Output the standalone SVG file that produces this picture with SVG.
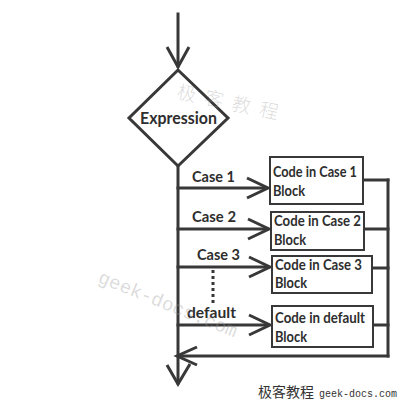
<svg xmlns="http://www.w3.org/2000/svg" width="400" height="400" viewBox="0 0 400 400">
<style>
.ln{stroke:#383838;stroke-width:3;fill:none;stroke-linecap:square}
.ah{stroke:#383838;stroke-width:3;fill:none;stroke-linejoin:miter}
.box{fill:#fff;stroke:#383838;stroke-width:2}
.t{font-family:Lato,"Open Sans","DejaVu Sans",sans-serif;font-weight:bold;fill:#2e2e2e}
.lab{font-size:15.5px}
.code{font-size:15px}
.wm{fill:#999;fill-opacity:0.35}
</style>
<rect width="400" height="400" fill="#fff"/>
<g id="connectors">
<line class="ln" x1="178" y1="14" x2="178" y2="66"/>
<polyline class="ah" points="167,47 178,67 189,47"/>
<line class="ln" x1="178" y1="166" x2="178" y2="383"/>
<polyline class="ah" points="167,365 178,384 190,364"/>
<line class="ln" x1="178" y1="188" x2="266" y2="188"/>
<polyline class="ah" points="247,178 268,188 247,198"/>
<line class="ln" x1="178" y1="229" x2="267" y2="229"/>
<polyline class="ah" points="248,219 269,229 248,239"/>
<line class="ln" x1="178" y1="267" x2="268" y2="267"/>
<polyline class="ah" points="249,257 270,267 249,277"/>
<line class="ln" x1="178" y1="325" x2="268" y2="325"/>
<polyline class="ah" points="249,315 270,325 249,335"/>
<line x1="213" y1="270" x2="213" y2="304" stroke="#383838" stroke-width="3" stroke-dasharray="3 3"/>
<line class="ln" x1="363" y1="180" x2="388" y2="180"/>
<line class="ln" x1="364" y1="229" x2="388" y2="229"/>
<line class="ln" x1="372" y1="268" x2="388" y2="268"/>
<line class="ln" x1="373" y1="325" x2="388" y2="325"/>
<line class="ln" x1="388" y1="180" x2="388" y2="356"/>
<line class="ln" x1="388" y1="356" x2="179" y2="356"/>
<polyline class="ah" points="197,347 177,356 197,365"/>
<text class="t lab" x="192" y="182" textLength="43" lengthAdjust="spacingAndGlyphs">Case 1</text>
<text class="t lab" x="192" y="222" textLength="44" lengthAdjust="spacingAndGlyphs">Case 2</text>
<text class="t lab" x="197" y="260" textLength="43" lengthAdjust="spacingAndGlyphs">Case 3</text>
<text class="t lab" x="187" y="318" textLength="49" lengthAdjust="spacingAndGlyphs">default</text>
</g>
<g id="expression">
<polygon points="178,70 228,118 178,166 129,118" fill="#fff" stroke="#383838" stroke-width="3"/>
<text class="t" x="140" y="124" font-size="17" textLength="77" lengthAdjust="spacingAndGlyphs">Expression</text>
</g>
<g id="case1">
<rect class="box" x="270" y="157" width="93" height="47"/>
<text class="t code" x="273" y="177" textLength="84" lengthAdjust="spacingAndGlyphs">Code in Case 1</text>
<text class="t code" x="273" y="196" textLength="32" lengthAdjust="spacingAndGlyphs">Block</text>
</g>
<g id="case2">
<rect class="box" x="271" y="212" width="93" height="38"/>
<text class="t code" x="274" y="226" textLength="87" lengthAdjust="spacingAndGlyphs">Code in Case 2</text>
<text class="t code" x="274" y="245" textLength="32" lengthAdjust="spacingAndGlyphs">Block</text>
</g>
<g id="case3">
<rect class="box" x="272" y="256" width="100" height="37"/>
<text class="t code" x="275" y="270" textLength="87" lengthAdjust="spacingAndGlyphs">Code in Case 3</text>
<text class="t code" x="275" y="288" textLength="32" lengthAdjust="spacingAndGlyphs">Block</text>
</g>
<g id="default">
<rect class="box" x="272" y="306" width="101" height="41"/>
<text class="t code" x="275" y="323" textLength="90" lengthAdjust="spacingAndGlyphs">Code in default</text>
<text class="t code" x="275" y="342" textLength="32" lengthAdjust="spacingAndGlyphs">Block</text>
</g>
<g id="footer">
<text x="258" y="397" font-family="'Noto Sans CJK SC',serif" font-size="14" fill="#333">极客教程</text>
<text x="319" y="397" font-family="'Liberation Mono',monospace" font-size="10" fill="#333">geek-docs.com</text>
</g>
<g id="watermarks">
<text class="wm" x="176" y="98" transform="rotate(12 176 98)" font-family="'Noto Sans CJK SC',sans-serif" font-size="19" font-weight="300" letter-spacing="9">极客教程</text>
<text class="wm" x="97" y="282" transform="rotate(22 97 282)" font-family="'Liberation Mono',monospace" font-size="19">geek-docs.com</text>
</g>
</svg>
